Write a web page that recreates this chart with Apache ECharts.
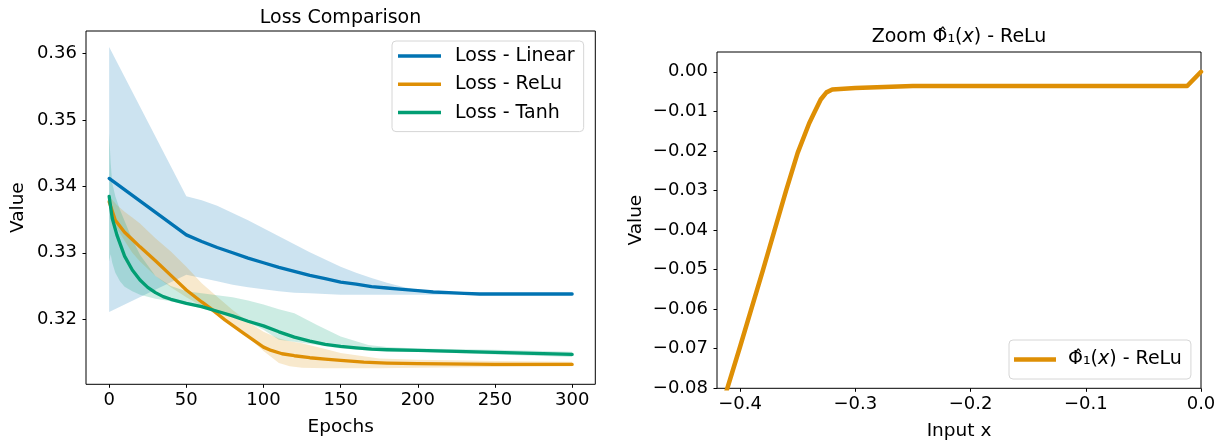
<!DOCTYPE html>
<html><head><meta charset="utf-8">
<script src="https://cdn.jsdelivr.net/npm/echarts@6/dist/echarts.min.js"></script>
<style>html,body{margin:0;padding:0;background:#fff}#c{width:1228px;height:440px}</style>
</head><body><div id="c"></div>
<script>
// ---------- Left chart: Loss comparison ----------
const linearX = [0,50,60,70,80,90,100,110,120,130,140,150,160,170,180,190,200,210,220,230,240,250,275,300];
const linearLoss = [0.3412,0.3327,0.3317,0.3308,0.3300,0.3292,0.3285,0.3278,0.3272,0.3266,0.3261,0.3256,0.3253,0.3249,0.3247,0.3245,0.3243,0.3241,0.3240,0.3239,0.3238,0.3238,0.3238,0.3238];
const linearUpper = [0.3610,0.3385,0.3379,0.3371,0.3360,0.3349,0.3337,0.3325,0.3313,0.3301,0.3290,0.3279,0.3270,0.3262,0.3255,0.3249,0.3244,0.3241,0.3239,0.3238,0.3238,0.3238,0.3238,0.3238];
const linearLower = [0.3211,0.3267,0.3262,0.3257,0.3252,0.3248,0.3245,0.3242,0.3240,0.3239,0.3238,0.3237,0.3237,0.3237,0.3237,0.3237,0.3237,0.3237,0.3237,0.3237,0.3237,0.3237,0.3237,0.3238];

const reluX = [0,4,10,15,20,30,40,50,60,67,75,87,100,105,112,120,130,140,150,165,180,200,250,300];
const reluLoss = [0.3377,0.3349,0.3331,0.3320,0.3309,0.3288,0.3266,0.3244,0.3226,0.3214,0.3199,0.3179,0.3158,0.3153,0.3148,0.3145,0.3142,0.3140,0.3138,0.31355,0.3134,0.3133,0.3132,0.3132];
const reluBandX = [0,5,10,15,20,30,40,50,60,70,80,90,100,110,117,125,140,150,175,200,250,300];
const reluUpper = [0.3385,0.3372,0.3362,0.3353,0.3344,0.3322,0.3302,0.3279,0.3254,0.3234,0.3214,0.3196,0.3181,0.3171,0.3167,0.3164,0.3155,0.3149,0.3141,0.3139,0.3137,0.3136];
const reluLower = [0.3372,0.3337,0.3318,0.3300,0.3287,0.3265,0.3248,0.3233,0.3220,0.3206,0.3192,0.3173,0.3152,0.3134,0.3129,0.3127,0.3126,0.3126,0.3126,0.3127,0.3128,0.3129];

const tanhX = [0,2,5,10,15,20,25,30,35,40,50,60,70,80,90,100,110,120,130,140,150,160,170,180,200,250,300];
const tanhLoss = [0.3385,0.3352,0.3327,0.3295,0.3274,0.3259,0.3248,0.3240,0.3234,0.3230,0.3224,0.3219,0.3212,0.3205,0.3197,0.3190,0.3181,0.3173,0.3167,0.3162,0.3159,0.3157,0.3155,0.3154,0.3153,0.3150,0.3147];
const tanhBandX = [0,1,2,4,7,10,15,20,30,40,50,60,70,80,90,100,110,120,135,150,168,180,200,250,300];
const tanhUpper = [0.3480,0.3435,0.3405,0.3385,0.3365,0.3348,0.3320,0.3297,0.3265,0.3250,0.3242,0.3239,0.3236,0.3233,0.3228,0.3222,0.3215,0.3209,0.3191,0.3174,0.3161,0.3158,0.3156,0.3154,0.3151];
const tanhLower = [0.3287,0.3298,0.3285,0.3270,0.3257,0.3249,0.3242,0.3237,0.3231,0.3227,0.3222,0.3216,0.3210,0.3204,0.3195,0.3184,0.3169,0.3166,0.3161,0.3156,0.3153,0.3152,0.3151,0.3147,0.3143];

const epochTicks = [0,50,100,150,200,250,300];
const lossTicks = [0.32,0.33,0.34,0.35,0.36];

// ---------- Right chart: zoom of Phi_1 ----------
const phiX = [-0.42,-0.40,-0.38,-0.36,-0.35,-0.34,-0.335,-0.33,-0.325,-0.32,-0.30,-0.25,-0.10,-0.012,0.0];
const phiY = [-0.0885,-0.0695,-0.0500,-0.0300,-0.0205,-0.0130,-0.0100,-0.0070,-0.0052,-0.0045,-0.0041,-0.0036,-0.0036,-0.0036,0.0];
const inputTicks = [-0.4,-0.3,-0.2,-0.1,0.0];
const valueTicks = [-0.08,-0.07,-0.06,-0.05,-0.04,-0.03,-0.02,-0.01,0.0];

const C_BLUE = '#0173b2', C_ORANGE = '#de8f05', C_GREEN = '#029e73';
const FONT = 'DejaVu Sans';
const zip = (xs, ys) => xs.map((x, i) => [x, ys[i]]);
const minus = v => (v < -1e-12 ? '\u2212' : '');

function band(xs, lo, hi, color) {
  return {
    type: 'custom', xAxisIndex: 0, yAxisIndex: 0, silent: true, z: 1,
    data: xs.map((x, i) => [x, lo[i], hi[i]]),
    encode: { x: 0, y: [1, 2] },
    renderItem: function (params, api) {
      if (params.dataIndex !== 0) return null;
      const top = xs.map((x, i) => api.coord([x, hi[i]]));
      const bot = xs.map((x, i) => api.coord([x, lo[i]])).reverse();
      return { type: 'polygon', shape: { points: top.concat(bot) }, style: { fill: color, opacity: 0.2 } };
    }
  };
}
function line(name, xs, ys, color, xi, w) {
  return {
    type: 'line', name: name, xAxisIndex: xi, yAxisIndex: xi, data: zip(xs, ys),
    showSymbol: false, smooth: false, color: color, z: 3,
    lineStyle: { color: color, width: w, cap: 'round', join: 'round' }
  };
}
const tickStyle = { fontSize: 18, fontFamily: FONT, color: '#000' };
const nameStyle = { fontSize: 18.5, fontFamily: FONT, color: '#000' };
const noLine = { show: false, onZero: false };

const chart = echarts.init(document.getElementById('c'), null, { renderer: 'canvas' });
chart.setOption({
  animation: false,
  backgroundColor: '#fff',
  title: [
    { text: 'Loss Comparison', left: 340.5, top: 8.5, textAlign: 'center', padding: 0,
      textStyle: { fontSize: 19, fontWeight: 'normal', fontFamily: FONT, color: '#000' } },
    { text: '{n|Zoom \u03A6\u0302\u2081(}{i|x}{n|) - ReLu}', left: 959, top: 28, textAlign: 'center', padding: 0,
      textStyle: { fontSize: 19, fontWeight: 'normal', fontFamily: FONT, color: '#000',
        rich: { n: { fontSize: 19, fontFamily: FONT, color: '#000' },
                i: { fontSize: 19, fontFamily: FONT, fontStyle: 'italic', color: '#000' } } } }
  ],
  grid: [
    { left: 86, top: 31, width: 509.3, height: 353.3, show: true, borderColor: '#000', borderWidth: 1, backgroundColor: 'transparent', outerBoundsMode: 'none' },
    { left: 717, top: 52, width: 484, height: 336.3, show: true, borderColor: '#000', borderWidth: 1, backgroundColor: 'transparent', outerBoundsMode: 'none' }
  ],
  xAxis: [
    { type: 'value', gridIndex: 0, position: 'bottom', min: -15, max: 315, splitLine: { show: false },
      axisLine: noLine,
      axisTick: { show: true, length: 3.5, customValues: epochTicks, lineStyle: { color: '#000', width: 1 } },
      axisLabel: { customValues: epochTicks, margin: 7, ...tickStyle, formatter: v => String(v) },
      name: 'Epochs', nameLocation: 'middle', nameGap: 33, nameTextStyle: nameStyle },
    { type: 'value', gridIndex: 1, position: 'bottom', min: -0.42, max: 0, splitLine: { show: false },
      axisLine: noLine,
      axisTick: { show: true, length: 3.5, customValues: inputTicks, lineStyle: { color: '#000', width: 1 } },
      axisLabel: { customValues: inputTicks, margin: 7, ...tickStyle, formatter: v => minus(v) + Math.abs(v).toFixed(1) },
      name: 'Input x', nameLocation: 'middle', nameGap: 33, nameTextStyle: nameStyle }
  ],
  yAxis: [
    { type: 'value', gridIndex: 0, position: 'left', min: 0.3102, max: 0.3634, splitLine: { show: false },
      axisLine: noLine,
      axisTick: { show: true, length: 3.5, customValues: lossTicks, lineStyle: { color: '#000', width: 1 } },
      axisLabel: { customValues: lossTicks, margin: 9, ...tickStyle, formatter: v => v.toFixed(2) },
      name: 'Value', nameLocation: 'middle', nameGap: 58, nameTextStyle: nameStyle },
    { type: 'value', gridIndex: 1, position: 'left', min: -0.08, max: 0.005, splitLine: { show: false },
      axisLine: noLine,
      axisTick: { show: true, length: 3.5, customValues: valueTicks, lineStyle: { color: '#000', width: 1 } },
      axisLabel: { customValues: valueTicks, margin: 9, ...tickStyle, formatter: v => minus(v) + Math.abs(v).toFixed(2) },
      name: 'Value', nameLocation: 'middle', nameGap: 71, nameTextStyle: nameStyle }
  ],
  legend: [
    { data: ['Loss - Linear', 'Loss - ReLu', 'Loss - Tanh'], orient: 'vertical', left: 392, top: 41,
      icon: 'rect', itemWidth: 43, itemHeight: 3.5, itemGap: 9.3, padding: [5.5, 9, 9.5, 6],
      textStyle: { fontSize: 19, fontFamily: FONT, color: '#000', lineHeight: 19, padding: [0, 0, 0, 9] },
      borderColor: '#d6d6d6', borderWidth: 1, borderRadius: 4, backgroundColor: 'rgba(255,255,255,0.8)',
      selectedMode: false },
    { data: ['phi'], orient: 'vertical', left: 1009, top: 340,
      icon: 'rect', itemWidth: 42, itemHeight: 4.5, padding: [10, 9, 10, 5],
      formatter: () => '{n|\u03A6\u0302\u2081(}{i|x}{n|) - ReLu}',
      textStyle: { fontSize: 19, fontFamily: FONT, color: '#000', lineHeight: 19, padding: [0, 0, 0, 7],
        rich: { n: { fontSize: 19, fontFamily: FONT, color: '#000' },
                i: { fontSize: 19, fontFamily: FONT, fontStyle: 'italic', color: '#000' } } },
      borderColor: '#d6d6d6', borderWidth: 1, borderRadius: 4, backgroundColor: 'rgba(255,255,255,0.8)',
      selectedMode: false }
  ],
  series: [
    band(linearX, linearLower, linearUpper, C_BLUE),
    band(reluBandX, reluLower, reluUpper, C_ORANGE),
    band(tanhBandX, tanhLower, tanhUpper, C_GREEN),
    line('Loss - Linear', linearX, linearLoss, C_BLUE, 0, 3.3),
    line('Loss - ReLu', reluX, reluLoss, C_ORANGE, 0, 3.3),
    line('Loss - Tanh', tanhX, tanhLoss, C_GREEN, 0, 3.3),
    line('phi', phiX, phiY, C_ORANGE, 1, 4.5)
  ]
});
</script></body></html>
